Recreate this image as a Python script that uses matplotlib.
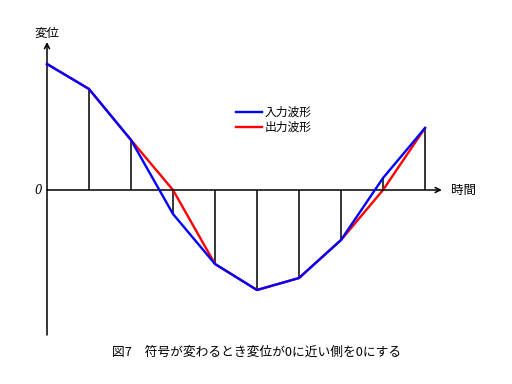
import numpy as np
import matplotlib.pyplot as plt

plt.rcParams['font.family'] = ['Noto Sans CJK JP', 'DejaVu Sans']

# sample positions and displacement values (zero line = 0)
samples = np.arange(10)
input_wave = [1.26, 1.01, 0.50, -0.24, -0.74, -1.00, -0.88, -0.50, 0.12, 0.62]
output_wave = [1.26, 1.01, 0.50, 0.00, -0.74, -1.00, -0.88, -0.50, 0.00, 0.62]

legend_labels = ['入力波形', '出力波形']
caption = '図7　符号が変わるとき変位が0に近い側を0にする'

fig = plt.figure(figsize=(5.12, 3.84), dpi=100)
ax = fig.add_axes([0, 0, 1, 1])
ax.set_xlim(-1.119, 11.071)
ax.set_ylim(-1.94, 1.90)
ax.axis('off')

# axes with arrows
ax.annotate('', xy=(0, 1.48), xytext=(0, -1.45),
            arrowprops=dict(arrowstyle='->', color='black', lw=1.1,
                            shrinkA=0, shrinkB=0, mutation_scale=9))
ax.annotate('', xy=(9.40, 0), xytext=(0, 0),
            arrowprops=dict(arrowstyle='->', color='black', lw=1.1,
                            shrinkA=0, shrinkB=0, mutation_scale=9))

# stems from zero line to input values
ax.vlines(samples[1:], 0, input_wave[1:], color='black', lw=1.1, zorder=1)

ax.plot(samples, output_wave, color='#ff0000', lw=1.7, zorder=2)
ax.plot(samples, input_wave, color='#0000ff', lw=1.7, zorder=3)

# legend drawn by hand
ax.plot([4.50, 5.12], [0.78, 0.78], color='#0000ff', lw=1.7)
ax.plot([4.50, 5.12], [0.63, 0.63], color='#ff0000', lw=1.7)
ax.text(5.17, 0.78, legend_labels[0], fontsize=8.5, va='center', ha='left')
ax.text(5.17, 0.63, legend_labels[1], fontsize=8.5, va='center', ha='left')

ax.text(0, 1.57, '変位', fontsize=9, ha='center', va='center')
ax.text(9.62, 0, '時間', fontsize=9, ha='left', va='center')
ax.text(-0.20, 0, '0', fontsize=8.5, ha='center', va='center',
        family='DejaVu Serif', fontstyle='italic')

fig.text(0.502, 0.083, caption, fontsize=9.2, ha='center', va='center')

fig.savefig('out.png', dpi=100)
